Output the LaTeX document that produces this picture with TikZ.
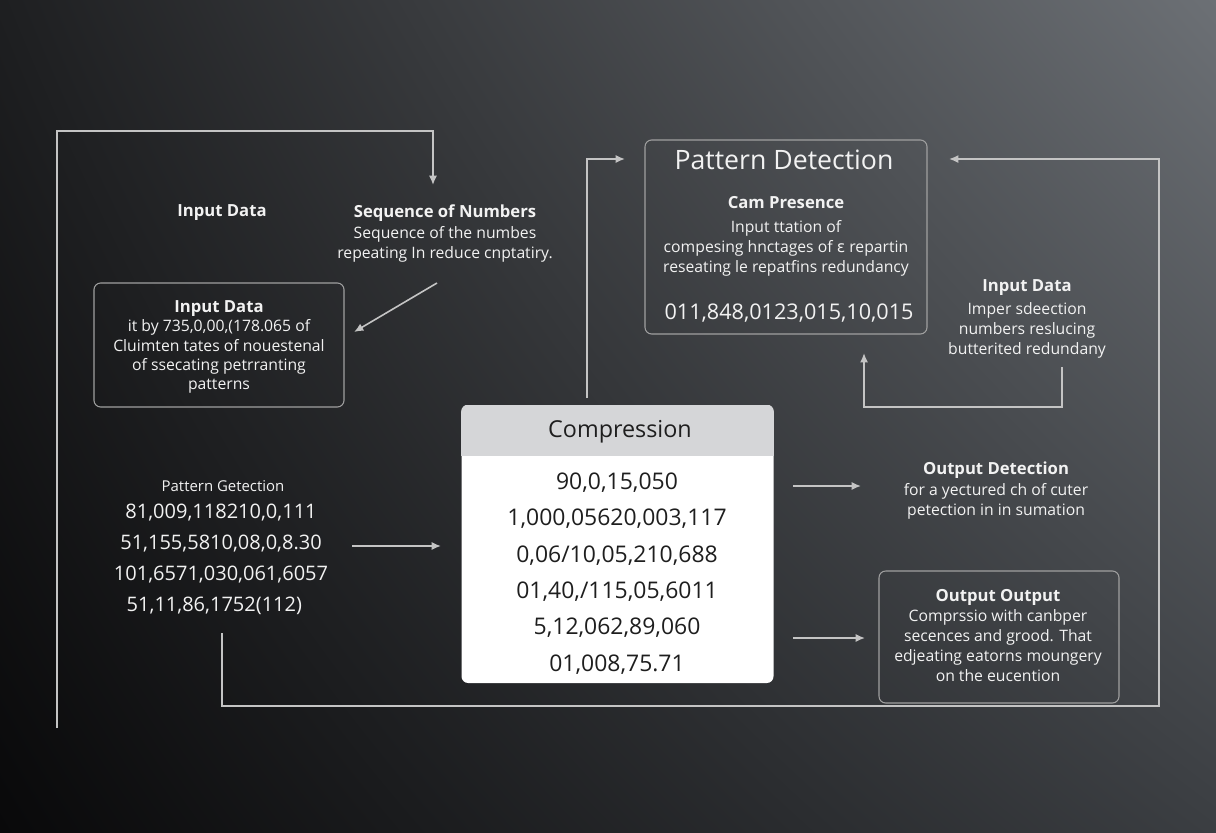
\documentclass[tikz,border=0pt]{standalone}
\usepackage{fontspec}
\setmainfont{Open Sans}
\newfontfamily\dvfont{DejaVu Sans}
\usetikzlibrary{arrows.meta,positioning,calc,shadings}

\definecolor{bgul}{HTML}{1E1F21}
\definecolor{bgur}{HTML}{6C7075}
\definecolor{bgll}{HTML}{09090A}
\definecolor{bglr}{HTML}{3B3E42}
\definecolor{linegray}{HTML}{C4C4C4}
\definecolor{boxgray}{HTML}{A0A0A0}
\definecolor{txtwhite}{HTML}{F2F2F2}
\definecolor{headgray}{HTML}{D5D6D8}
\definecolor{txtdark}{HTML}{1E1E1E}

\tikzset{
	wire/.style={draw=linegray, line width=1.2pt},
	arrowwire/.style={wire, -{Latex[length=7pt,width=6pt]}},
	headtxt/.style={text=txtwhite, font=\bfseries\fontsize{12.5}{15}\selectfont},
	bodytxt/.style={text=txtwhite, align=center, font=\fontsize{11.8}{15}\selectfont},
	panel/.style={draw=boxgray, line width=0.8pt, rounded corners=5pt},
}

\begin{document}
\begin{tikzpicture}[x=0.75pt,y=-0.75pt]
	% background
	\shade[upper left=bgul, upper right=bgur, lower left=bgll, lower right=bglr]
		(0,0) rectangle (1216,832);
	\useasboundingbox (0,0) rectangle (1216,832);

	% left column
	\node[headtxt] (indata) at (222,213) {Input Data};
	\node[headtxt] (seqhead) at (445,213) {Sequence of Numbers};
	\node[bodytxt] (seqtext) at (445,244) {Sequence of the numbes\\repeating In reduce cnptatiry.};
	\node[panel, minimum width=187.5pt, minimum height=93pt] (inbox) at (219,345) {};
	\node[bodytxt, font=\fontsize{11.8}{14.6}\selectfont] (intext) at (219,347)
		{{\bfseries\fontsize{12.5}{14.6}\selectfont Input Data}\\it by 735,0,00,(178.065 of\\Cluimten tates of nouestenal\\of ssecating petrranting\\patterns};
	\node[bodytxt, font=\fontsize{11.2}{14}\selectfont] (patlabel) at (223,486) {Pattern Getection};
	\node[bodytxt, font=\fontsize{15}{23.2}\selectfont] (patnums) at (221,559.5)
		{81,009,118210,0,111\\51,155,5810,08,0,8.30\\101,6571,030,061,6057\\51,11,86,1752(112)\hspace*{10pt}};

	% compression
	\node[fill=white, rounded corners=5pt, minimum width=234pt, minimum height=208.5pt] (comp) at (617.5,544) {};
	\begin{scope}
		\clip[rounded corners=5pt] (comp.north west) rectangle (comp.south east);
		\fill[headgray] (comp.north west) rectangle ($(comp.north east)+(0,51)$);
	\end{scope}
	\node[text=txtdark, font=\fontsize{17.5}{20}\selectfont] (comptitle) at (620,432) {Compression};
	\node[text=txtdark, align=center, font=\fontsize{17.2}{27.2}\selectfont] (compnums) at (617,573.5)
		{90,0,15,050\\1,000,05620,003,117\\0,06/10,05,210,688\\01,40,/115,05,6011\\5,12,062,89,060\\01,008,75.71};

	% pattern detection
	\node[panel, minimum width=211.5pt, minimum height=145.5pt] (pdbox) at (786,237) {};
	\node[text=txtwhite, font=\fontsize{20}{24}\selectfont] (pdtitle) at (784,160) {Pattern Detection};
	\node[headtxt] (pdhead) at (786,203) {Cam Presence};
	\node[bodytxt] (pdtext) at (786,248.5) {Input ttation of\\compesing hnctages of {\dvfont ɛ} repartin\\reseating le repatfins redundancy};
	\node[text=txtwhite, font=\fontsize{16.2}{20}\selectfont] (pdnums) at (789,313) {011,848,0123,015,10,015};

	% right column
	\node[headtxt] (rindata) at (1027,288) {Input Data};
	\node[bodytxt] (rintext) at (1027,330) {Imper sdeection\\numbers reslucing\\butterited redundany};
	\node[headtxt] (outdet) at (996,470) {Output Detection};
	\node[bodytxt] (outdettext) at (996,501) {for a yectured ch of cuter\\petection in in sumation};
	\node[panel, minimum width=180pt, minimum height=99pt] (outbox) at (999,637) {};
	\node[bodytxt] (outtext) at (998,636)
		{{\bfseries\fontsize{12.5}{15}\selectfont Output Output}\\Comprssio with canbper\\secences and grood. That\\edjeating eatorns moungery\\on the eucention};

	% connectors
	\coordinate (tlA) at (57,728);
	\coordinate (tlB) at (433,185);
	\draw[arrowwire] (tlA) |- (433,131) -- (tlB);
	\coordinate (dgA) at (437,283);
	\coordinate (dgB) at (354,332);
	\draw[arrowwire] (dgA) -- (dgB);
	\coordinate (lnA) at (352,546);
	\coordinate (lnB) at (441,546);
	\draw[arrowwire] (lnA) -- (lnB);
	\coordinate (cuA) at (587,398);
	\coordinate (cuB) at (625,159);
	\draw[arrowwire] (cuA) |- (cuB);
	\coordinate (fbA) at (222,633);
	\coordinate (fbB) at (949,159);
	\draw[arrowwire] (fbA) |- (1159,706) |- (fbB);
	\coordinate (lpA) at (1062,367);
	\coordinate (lpB) at (864,353);
	\draw[arrowwire] (lpA) -- (1062,407) -| (lpB);
	\coordinate (r1A) at (793,486);
	\coordinate (r1B) at (861,486);
	\draw[arrowwire] (r1A) -- (r1B);
	\coordinate (r2A) at (793,638);
	\coordinate (r2B) at (865,638);
	\draw[arrowwire] (r2A) -- (r2B);
\end{tikzpicture}
\end{document}
